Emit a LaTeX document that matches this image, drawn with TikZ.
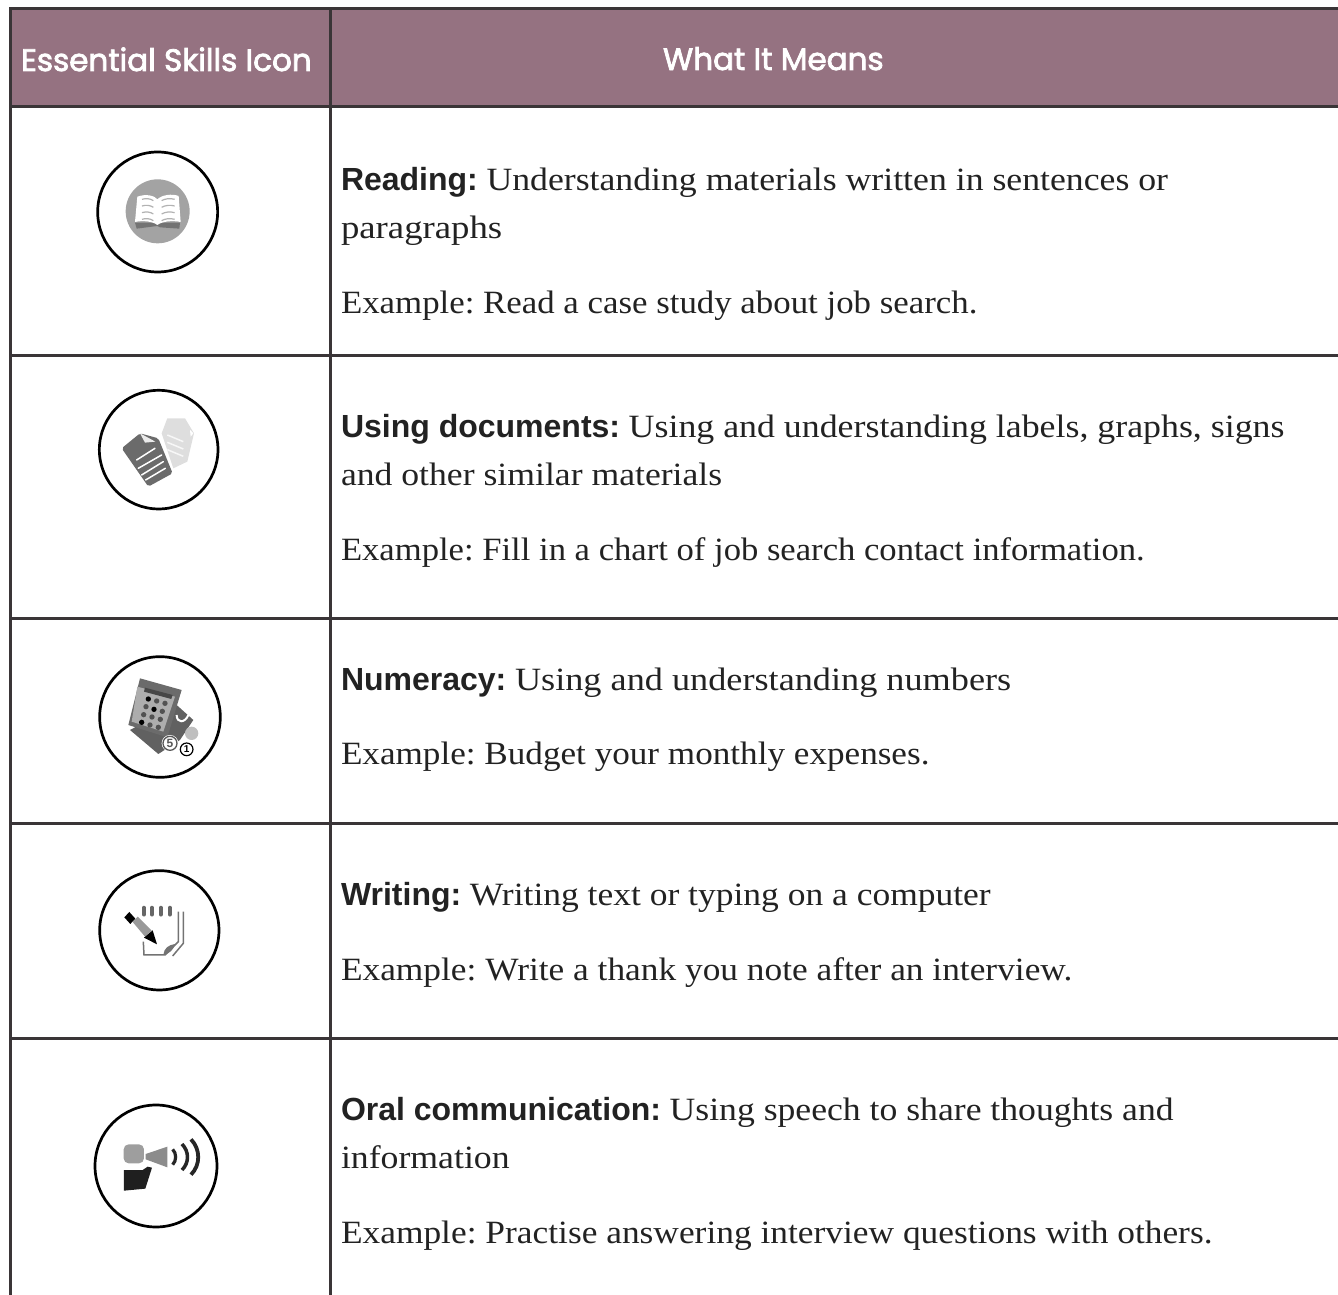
\documentclass[tikz,border=0pt]{standalone}
\usepackage{fontspec}
\usepackage{graphicx}
\setmainfont{Liberation Serif}
\newfontfamily\bodyf[FakeStretch=1.06]{Liberation Serif}
\newfontfamily\boldf{Liberation Sans}
\newfontfamily\headf[FakeBold=2.5]{Poppins}
\definecolor{hdr}{HTML}{957281}
\definecolor{rule}{HTML}{3A3537}
\definecolor{ink}{HTML}{222222}
\tikzset{
  tbl/.style={draw=rule,line width=3pt},
  ring/.style={draw=black,line width=2.7pt,fill=none},
  txt/.style={anchor=base west,inner sep=0pt,outer sep=0pt,text=ink,font=\frenchspacing\fontsize{32.5}{40}\bodyf},
  hd/.style={anchor=base west,inner sep=0pt,outer sep=0pt,text=white,font=\fontsize{31}{36}\headf},
  zoomA/.style={shift={(80,140)},x=0.3333pt,y=-0.3333pt},
  zoomB/.style={shift={(80,640)},x=0.3333pt,y=-0.3333pt},
  zoomC/.style={shift={(80,1090)},x=0.3333pt,y=-0.3333pt},
}
\newcommand{\lbl}[1]{{\fontsize{32}{40}\boldf\bfseries #1}}
\newcommand{\sx}[2]{\scalebox{#1}[1]{#2}}
\begin{document}
\begin{tikzpicture}[x=1pt,y=-1pt]
\useasboundingbox (0,0) rectangle (1338,1295);
% header
\fill[hdr] (10,9) rectangle (1338,107);
% table rules
\draw[tbl] (1338,9) -- (10,9) -- (10,1295);
\draw[tbl] (330,9) -- (330,1295);
\foreach \yy in {107,355,618,823,1038} \draw[tbl] (10,\yy) -- (1338,\yy);
\node[hd] (h1) at (21,71) {Essential Skills Icon};
\node[hd] (h2) at (663,70) {What It Means};
% text
\node[txt] (r1) at (341,190) {\lbl{Reading:} \sx{1.037}{Understanding materials written in sentences or}};
\node[txt] (r2) at (341,238) {\sx{1.067}{paragraphs}};
\node[txt] (r3) at (341,313) {\sx{1.011}{Example: Read a case study about job search.}};
\node[txt] (d1) at (341,437) {\lbl{Using documents:} \sx{1.04}{Using and understanding labels, graphs, signs}};
\node[txt] (d2) at (341,485) {\sx{1.035}{and other similar materials}};
\node[txt] (d3) at (341,560) {\sx{1.005}{Example: Fill in a chart of job search contact information.}};
\node[txt] (n1) at (341,690) {\lbl{Numeracy:} \sx{1.052}{Using and understanding numbers}};
\node[txt] (n2) at (341,764) {\sx{1.02}{Example: Budget your monthly expenses.}};
\node[txt] (w1) at (341,905) {\lbl{Writing:} \sx{1.03}{Writing text or typing on a computer}};
\node[txt] (w2) at (341,980) {\sx{1.026}{Example: Write a thank you note after an interview.}};
\node[txt] (o1) at (341,1120) {\lbl{Oral communication:} \sx{1.035}{Using speech to share thoughts and}};
\node[txt] (o2) at (341,1168) {\sx{1.037}{information}};
\node[txt] (o3) at (341,1243) {\sx{1.027}{Example: Practise answering interview questions with others.}};
% ---- reading icon
\begin{scope}[zoomA]
\fill[black!36] (233,214) circle[radius=96];
\fill[black!55] (165,248) -- (300,248) -- (298,266) -- (240,262) -- (232,258) -- (170,266) -- cycle;
\fill[white] (172,170) .. controls (200,160) and (225,168) .. (232,178) .. controls (245,165) and (275,160) .. (296,168) -- (302,246) .. controls (275,240) and (245,245) .. (232,255) .. controls (220,245) and (190,240) .. (165,246) -- cycle;
\foreach \d in {0,20,40,60} {
  \draw[black!30,line width=1.2pt] (186,178+\d) .. controls (198,174+\d) and (212,176+\d) .. (220,182+\d);
  \draw[black!30,line width=1.2pt] (245,182+\d) .. controls (255,176+\d) and (270,174+\d) .. (284,178+\d);
}
\draw[ring] (233,216) circle[radius=180];
% ---- documents icon
\fill[black!13] (245,880) -- (262,835) -- (315,835) -- (342,880) -- (322,965) -- (280,985) -- cycle;
\foreach \d in {0,22,44} \draw[black!3,line width=1.5pt] (262,885+\d) -- (310,905+\d);
\fill[white] (330,870) -- (340,880) -- (332,890) -- cycle;
\fill[black!58,rounded corners=2pt] (125,925) -- (180,880) -- (235,895) -- (278,1000) -- (205,1040) -- cycle;
\fill[black!8] (180,880) -- (226,905) -- (195,908) -- cycle;
\foreach \a/\b/\c/\e in {170/960/225/925,175/985/245/945,185/1005/250/965,197/1020/256/985}
  \draw[white,line width=1.5pt,line cap=round] (\a,\b) -- (\c,\e);
\draw[ring] (236,929) circle[radius=178];
\end{scope}
% ---- numeracy icon
\begin{scope}[zoomB]
\fill[black!62] (150,270) -- (235,342) -- (300,300) -- (340,240) -- (290,195) -- cycle;
\draw[white,line width=2pt] (290,225) .. controls (290,250) and (315,250) .. (325,225);
\fill[black!58] (180,115) -- (305,150) -- (262,292) -- (145,255) -- cycle;
\fill[black!32] (172,140) -- (285,170) -- (250,275) -- (155,245) -- cycle;
\fill[black!72] (195,143) -- (278,165) -- (274,177) -- (192,155) -- cycle;
\foreach \cx/\cy/\cc in {205/177/black,230/183/black!68,255/190/black!68,
  198/200/black!68,222/208/black,247/214/black!68,
  191/224/black!68,216/231/black!68,241/238/black!68,
  185/247/black,210/255/black!68,235/262/black!68}
  \fill[\cc] (\cx,\cy) circle[radius=8];
\fill[white] (270,310) circle[radius=25];
\draw[black!65,line width=1.3pt] (270,310) circle[radius=21];
\node[inner sep=0pt,text=black!65,font=\fontsize{12}{12}\boldf\bfseries] (c5) at (270,310) {5};
\fill[black!25] (335,280) circle[radius=20];
\fill[white] (320,328) circle[radius=23];
\draw[black,line width=1.2pt] (320,328) circle[radius=19];
\node[inner sep=0pt,text=black,font=\fontsize{10}{10}\boldf\bfseries] (c1) at (320,328) {1};
\draw[ring] (240,231) circle[radius=181];
% ---- writing icon
\foreach \xx in {192,216,243,270}
  \draw[black!60,line width=3.8pt,line cap=round] (\xx,803) -- (\xx,824);
\draw[black!55,line width=1.5pt] (295,815) -- (295,905) -- (255,945) -- (192,945) -- (190,905);
\draw[black!55,line width=1.5pt] (310,815) -- (310,910) -- (278,948);
\fill[black!55] (250,945) .. controls (252,925) and (265,915) .. (285,912) .. controls (280,930) and (270,940) .. (250,945) -- cycle;
\fill[black] (133,832) -- (148,816) -- (166,836) -- (151,852) -- cycle;
\fill[black!40] (158,846) -- (173,830) -- (215,872) -- (195,890) -- cycle;
\fill[black] (192,893) -- (218,871) -- (231,913) -- cycle;
\draw[ring] (238,871) circle[radius=179];
\end{scope}
% ---- oral icon
\begin{scope}[zoomC]
\fill[black!38,rounded corners=5pt] (131,163) rectangle (192,220);
\fill[black!45] (197,192) -- (262,170) -- (262,232) -- (197,208) -- cycle;
\fill[black!88] (132,240) -- (188,240) -- (203,230) -- (216,233) -- (196,296) -- (132,302) -- cycle;
\draw[black!85,line width=3.2pt] (278,178) .. controls (290,190) and (290,212) .. (278,224);
\draw[black!85,line width=3.5pt] (306,162) .. controls (328,185) and (328,218) .. (306,240);
\draw[black!85,line width=3.8pt] (333,148) .. controls (362,178) and (362,225) .. (333,254);
\draw[ring] (228,228) circle[radius=183];
\end{scope}
\end{tikzpicture}
\end{document}
